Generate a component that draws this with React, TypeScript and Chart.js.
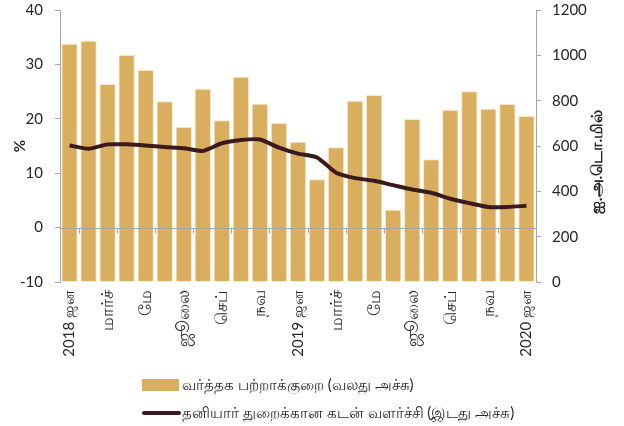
import React, { useEffect, useRef } from "react";
import { Chart, registerables } from "chart.js";

Chart.register(...registerables);

const monthLabels = [
  "2018 ஜன", "", "மார்ச்", "", "மே", "", "ஜூலை", "", "செப்", "", "நவ", "",
  "2019 ஜன", "", "மார்ச்", "", "மே", "", "ஜூலை", "", "செப்", "", "நவ", "",
  "2020 ஜன",
];

const tradeDeficit = [
  1051, 1064, 873, 1001, 935, 797, 684, 853, 714, 905, 786, 702, 619,
  453, 595, 800, 825, 319, 719, 542, 760, 841, 764, 785, 732,
];

const creditGrowth = [
  15.1, 14.5, 15.3, 15.3, 15.1, 14.8, 14.6, 14.1, 15.5, 16.1, 16.2, 14.7, 13.6,
  12.9, 10.1, 9.1, 8.6, 7.8, 7.0, 6.4, 5.3, 4.5, 3.8, 3.8, 4.0,
];

const barLegend = "வர்த்தக பற்றாக்குறை (வலது அச்சு)";
const lineLegend = "தனியார் துறைக்கான கடன் வளர்ச்சி (இடது அச்சு)";
const leftTitle = "%";
const rightTitle = "ஐ.அ.டொ.மில்";

const GOLD = "#D9AE5E";
const BROWN = "#3A1A1C";
const AXIS = "#A6A6A6";
const TEXT = "#262626";
const FONT = "Lato, 'Noto Sans', sans-serif";

const extras = {
  id: "extras",
  afterDatasetsDraw(chart: any) {
    const ctx = chart.ctx;
    const y = chart.scales.y;
    const area = chart.chartArea;
    const y0 = Math.round(y.getPixelForValue(0)) + 0.5;
    ctx.save();
    ctx.strokeStyle = AXIS;
    ctx.lineWidth = 1;
    ctx.beginPath();
    ctx.moveTo(area.left, y0);
    ctx.lineTo(area.right, y0);
    const n = monthLabels.length;
    const w = (area.right - area.left) / n;
    for (let i = 1; i <= n; i += 2) {
      const px = Math.round(area.left + i * w) + 0.5;
      ctx.moveTo(px, y0);
      ctx.lineTo(px, y0 + 5);
    }
    ctx.stroke();
    ctx.restore();
  },
  afterDraw(chart: any) {
    const ctx = chart.ctx;
    ctx.save();
    ctx.fillStyle = TEXT;
    ctx.textAlign = "center";
    ctx.textBaseline = "middle";
    ctx.font = `bold 15px ${FONT}`;
    ctx.translate(20, 146);
    ctx.rotate(-Math.PI / 2);
    ctx.fillText(leftTitle, 0, 0);
    ctx.restore();

    ctx.save();
    ctx.fillStyle = TEXT;
    ctx.textAlign = "center";
    ctx.textBaseline = "middle";
    ctx.font = `bold 16px ${FONT}`;
    ctx.translate(597, 162);
    ctx.rotate(-Math.PI / 2);
    ctx.fillText(rightTitle, 0, 0);
    ctx.restore();

    ctx.save();
    ctx.fillStyle = GOLD;
    ctx.fillRect(142, 379, 37, 12);
    ctx.strokeStyle = BROWN;
    ctx.lineWidth = 4;
    ctx.lineCap = "round";
    ctx.beginPath();
    ctx.moveTo(144, 413);
    ctx.lineTo(179, 413);
    ctx.stroke();
    ctx.fillStyle = TEXT;
    ctx.font = `15px ${FONT}`;
    ctx.textAlign = "left";
    ctx.textBaseline = "middle";
    ctx.fillText(barLegend, 182, 385);
    ctx.fillText(lineLegend, 182, 413);
    ctx.restore();
  },
};

export default function App() {
  const ref = useRef<HTMLCanvasElement>(null);
  useEffect(() => {
    const canvas = ref.current;
    if (!canvas) return;
    const chart = new Chart(canvas, {
      type: "bar",
      data: {
        labels: monthLabels,
        datasets: [
          {
            type: "line",
            label: lineLegend,
            data: creditGrowth,
            yAxisID: "y",
            borderColor: BROWN,
            borderWidth: 4,
            pointRadius: 0,
            tension: 0.2,
            order: 0,
          } as any,
          {
            type: "bar",
            label: barLegend,
            data: tradeDeficit,
            yAxisID: "y1",
            backgroundColor: GOLD,
            borderColor: "#F6E7CB",
            borderWidth: 1,
            barPercentage: 0.86,
            categoryPercentage: 1,
            order: 1,
          },
        ],
      },
      options: {
        animation: false,
        responsive: false,
        layout: { padding: { top: 0, left: 0, right: 0, bottom: 0 } },
        plugins: { legend: { display: false }, tooltip: { enabled: false } },
        scales: {
          x: {
            offset: true,
            grid: { display: false, drawTicks: false },
            border: { display: false },
            ticks: {
              autoSkip: false,
              maxRotation: 90,
              minRotation: 90,
              padding: 8,
              color: TEXT,
              font: (ctx: any) => {
                const lbl = monthLabels[ctx.index] || "";
                return { family: FONT, size: /\d/.test(lbl) ? 15 : 17 };
              },
            },
            afterFit(scale: any) {
              scale.height = 144;
            },
          },
          y: {
            position: "left",
            min: -10,
            max: 40,
            ticks: {
              stepSize: 10,
              padding: 12,
              color: TEXT,
              font: { family: FONT, size: 15 },
            },
            grid: { drawOnChartArea: false, tickLength: 5, color: AXIS },
            border: { color: AXIS },
            afterFit(scale: any) {
              scale.width = 60;
              scale.paddingTop = 10;
              scale.paddingBottom = 0;
            },
          },
          y1: {
            position: "right",
            min: 0,
            max: 1200,
            ticks: {
              stepSize: 200,
              padding: 11,
              color: TEXT,
              font: { family: FONT, size: 15 },
              callback: (v: any) => String(v),
            },
            grid: { drawOnChartArea: false, tickLength: 5, color: AXIS },
            border: { color: AXIS },
            afterFit(scale: any) {
              scale.width = 88;
              scale.paddingTop = 10;
              scale.paddingBottom = 0;
            },
          },
        },
      },
      plugins: [extras],
    });
    return () => chart.destroy();
  }, []);
  return (
    <div style={{ position: "absolute", left: 0, top: 0, width: 624, height: 426, background: "#fff" }}>
      <canvas ref={ref} width={624} height={426} />
    </div>
  );
}
